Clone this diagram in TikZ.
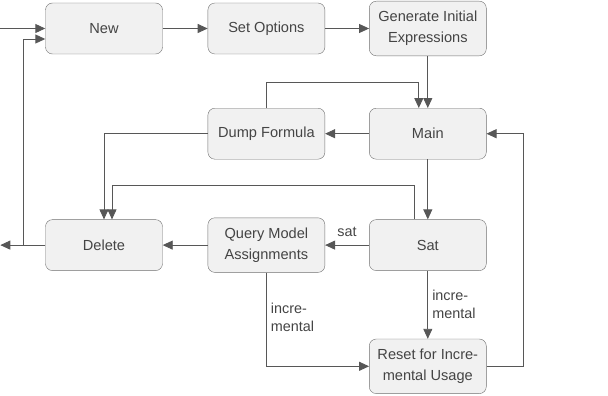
\documentclass[tikz,border=0pt]{standalone}
\usepackage{fontspec}
\setmainfont{Liberation Sans}
\usepackage{xcolor}
\usetikzlibrary{arrows.meta, positioning}

\definecolor{boxfill}{HTML}{F1F1F1}
\definecolor{boxline}{HTML}{707070}
\definecolor{wire}{HTML}{575757}
\definecolor{ink}{HTML}{444444}

\begin{document}
\begin{tikzpicture}[
        x=1pt, y=-1pt,
        box/.style={rectangle, draw=boxline, fill=boxfill, rounded corners=7pt, minimum height=51pt, minimum width=117pt, inner ysep=10pt, align=center, text=ink, font=\fontsize{14.6}{21}\selectfont},
        arr/.style={-{Triangle[length=10pt, width=9pt]}, draw=wire, line width=0.9pt},
        lbl/.style={font=\fontsize{14.4}{18}\selectfont, text=ink, align=left},
    ]
        \useasboundingbox (0,0) rectangle (608,396);

        % Top row: setup
        \node[box] (new) at (104,28.5) {New};
        \node[box, right=45pt of new] (opts) {Set Options};
        \node[box, right=44pt of opts] (gen) {Generate Initial\\Expressions};

        % Middle rows
        \node[box, below=52pt of gen] (main) {Main};
        \node[box, left=44pt of main] (dump) {Dump Formula};
        \node[box, below=60pt of main] (sat) {Sat};
        \node[box, left=44pt of sat] (query) {Query Model\\Assignments};
        \node[box, left=45pt of query] (del) {Delete};

        % Bottom row
        \node[box, below=68pt of sat] (reset) {Reset for Incre-\\mental Usage};

        % Entry and exit
        \coordinate (start) at (0,28.5);
        \coordinate[left=45pt of del.west] (stop);
        \coordinate[left=22pt of del.west] (back);

        % Arrows — top row
        \draw[arr] (start) -- (new);
        \draw[arr] (new) -- (opts);
        \draw[arr] (opts) -- (gen);
        \draw[arr] (gen) -- (main);

        % Arrows — main loop
        \draw[arr] (main) -- (dump);
        \draw[arr] (dump.north) -- ++(0,-26) -| ([xshift=-9pt]main.north);
        \draw[arr] (dump.west) -| (del.north);
        \draw[arr] (main) -- (sat);
        \draw[arr] ([xshift=-13pt]sat.north) -- ++(0,-34) -| ([xshift=8pt]del.north);
        \draw[arr] (sat) -- node[lbl, above, yshift=5pt] {sat} (query);
        \draw[arr] (query) -- (del);

        % Arrows — incremental path
        \draw[arr] (sat) -- node[lbl, right, inner xsep=4pt] {incre-\\mental} (reset);
        \draw[arr] (query.south) |- node[lbl, right, pos=0.24, inner xsep=4pt] {incre-\\mental} (reset.west);
        \draw[arr] (reset.east) -- ++(37,0) |- (main.east);

        % Exit and restart
        \draw[arr] (del.west) -- (stop);
        \draw[arr] (back) |- ([yshift=-10.5pt]new.west);
    \end{tikzpicture}
\end{document}
